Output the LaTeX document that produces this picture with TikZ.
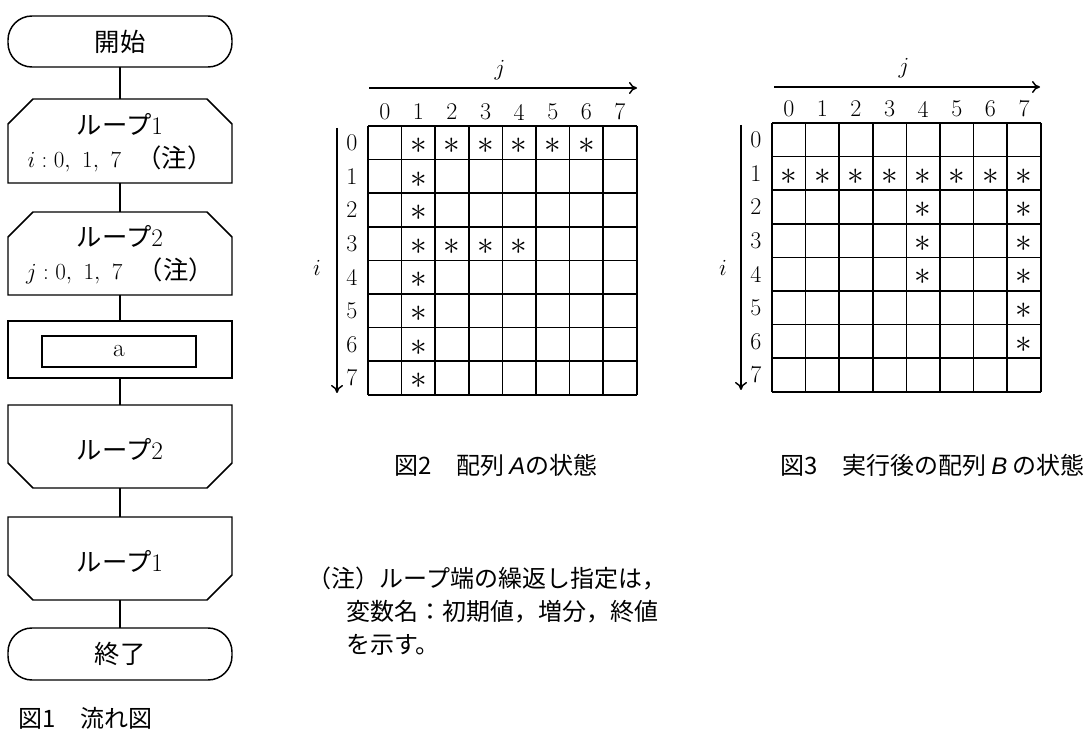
\documentclass[tikz,border=0pt]{standalone}
\usepackage{fontspec}
\usetikzlibrary{arrows.meta}
\newfontfamily\cjk{Noto Sans CJK JP}
\newfontfamily\lsans{Liberation Sans}
\begin{document}
\begin{tikzpicture}[x=0.75pt,y=-0.75pt,
  fbox/.style={draw,line width=1.1pt},
  ftext/.style={font=\fontsize{19}{25}\selectfont, align=center},
  lab/.style={font=\fontsize{18}{20}\selectfont},
  capt/.style={font=\cjk\fontsize{18}{25}\selectfont, anchor=west},
  star/.style={font=\fontsize{26}{26}\selectfont},
  arr/.style={-{To[length=6pt,width=9pt]},line width=1.1pt}]
\useasboundingbox (0,0) rectangle (1086,752);
% flowchart
\draw[fbox,rounded corners=18pt] (8,16) rectangle (232,67);
\node[ftext] (s) at (120,41.5) {\cjk 開始};
\draw[fbox] (8,183) -- (8,124) -- (33,99) -- (207,99) -- (232,124) -- (232,183) -- cycle;
\node[ftext] (l1) at (120,143) {{\cjk ループ}1\\$i:0,\ 1,\ 7$\ \ {\cjk （注）}};
\draw[fbox] (8,295) -- (8,237) -- (33,212) -- (207,212) -- (232,237) -- (232,295) -- cycle;
\node[ftext] (l2) at (120,255) {{\cjk ループ}2\\$j:0,\ 1,\ 7$\ \ {\cjk （注）}};
\draw[fbox] (8,321) rectangle (232,378);
\draw[line width=2.2pt] (42,336) rectangle (196,367);
\node[ftext] (a) at (119,351.5) {a};
\draw[fbox] (8,405) -- (8,463) -- (33,488) -- (207,488) -- (232,463) -- (232,405) -- cycle;
\node[ftext] (e2) at (120,449) {{\cjk ループ}2};
\draw[fbox] (8,517) -- (8,575) -- (33,600) -- (207,600) -- (232,575) -- (232,517) -- cycle;
\node[ftext] (e1) at (120,561) {{\cjk ループ}1};
\draw[fbox,rounded corners=18pt] (8,628) rectangle (232,680);
\node[ftext] (t) at (120,654) {\cjk 終了};
\foreach \a/\b in {67/99,183/212,295/321,378/405,488/517,600/628}
  \draw[line width=1.1pt] (120,\a) -- (120,\b);
\node[capt] (c1) at (14,718) {図1\quad 流れ図};
% grid A
\def\cs{33.6}
\begin{scope}[shift={(368,126)}]
\foreach \k in {0,...,8} {
  \draw[line width=1.2pt] (\k*\cs,0) -- (\k*\cs,8*\cs);
  \draw[line width=1.2pt] (0,\k*\cs) -- (8*\cs,\k*\cs);}
\foreach \k in {0,...,7} {
  \node[lab] at (\k*\cs+0.5*\cs,-14) {\k};
  \node[lab] at (-16,\k*\cs+0.5*\cs) {\k};}
\foreach \c/\r in {1/0,2/0,3/0,4/0,5/0,6/0,1/1,1/2,1/3,2/3,3/3,4/3,1/4,1/5,1/6,1/7}
  \node[star] at (\c*\cs+0.5*\cs,\r*\cs+0.5*\cs+3) {$\ast$};
\coordinate (ja) at (1,-38); \coordinate (jb) at (269,-38);
\draw[arr] (ja) -- (jb);
\node[lab] at (132,-56) {$j$};
\coordinate (ia) at (-31,2); \coordinate (ib) at (-31,267);
\draw[arr] (ia) -- (ib);
\node[lab] at (-51,142) {$i$};
\end{scope}
\node[capt] (c2) at (390,465) {図2\quad 配列 {\lsans\itshape A}の状態};
% grid B
\begin{scope}[shift={(772,123)}]
\foreach \k in {0,...,8} {
  \draw[line width=1.2pt] (\k*\cs,0) -- (\k*\cs,8*\cs);
  \draw[line width=1.2pt] (0,\k*\cs) -- (8*\cs,\k*\cs);}
\foreach \k in {0,...,7} {
  \node[lab] at (\k*\cs+0.5*\cs,-14) {\k};
  \node[lab] at (-16,\k*\cs+0.5*\cs) {\k};}
\foreach \c/\r in {0/1,1/1,2/1,3/1,4/1,5/1,6/1,7/1,4/2,4/3,4/4,7/2,7/3,7/4,7/5,7/6}
  \node[star] at (\c*\cs+0.5*\cs,\r*\cs+0.5*\cs+3) {$\ast$};
\coordinate (ja2) at (2,-36); \coordinate (jb2) at (268,-36);
\draw[arr] (ja2) -- (jb2);
\node[lab] at (132,-55) {$j$};
\coordinate (ia2) at (-31,2); \coordinate (ib2) at (-31,267);
\draw[arr] (ia2) -- (ib2);
\node[lab] at (-49,145) {$i$};
\end{scope}
\node[capt] (c3) at (776,465) {図3\quad 実行後の配列 {\lsans\itshape B} の状態};
% note
\node[capt,align=left,anchor=north west] (n) at (303,562) {（注）ループ端の繰返し指定は，\\\hspace{1.6em}変数名：初期値，増分，終値\\\hspace{1.6em}を示す。};
\end{tikzpicture}
\end{document}
